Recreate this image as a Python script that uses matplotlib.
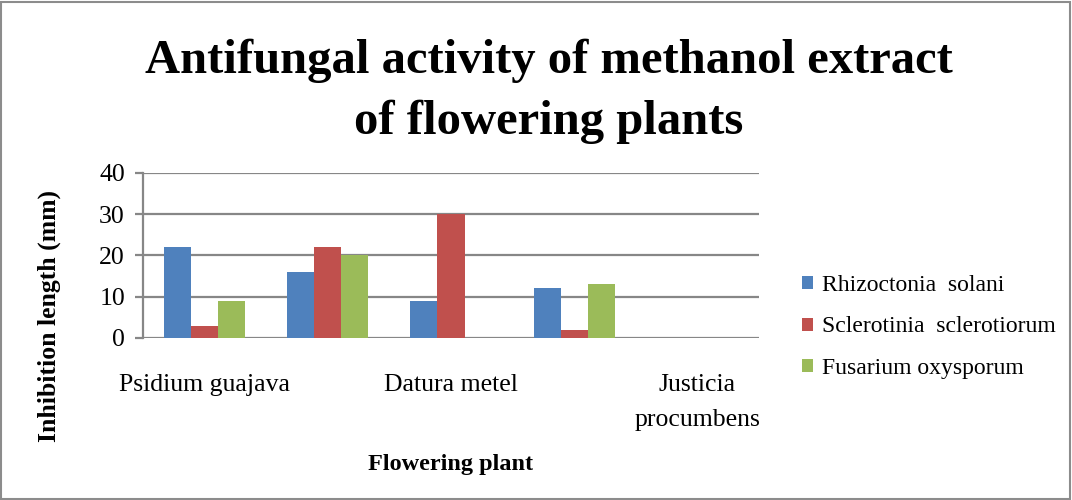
import matplotlib
matplotlib.use("Agg")
from matplotlib import pyplot as plt
from matplotlib.patches import Rectangle
import numpy as np

# data
plants = ["Psidium guajava", "", "Datura metel", "", "Justicia\nprocumbens"]
rhizoctonia = [22, 16, 9, 12, 0]
sclerotinia = [3, 22, 30, 2, 0]
fusarium = [9, 20, 0, 13, 0]
series_names = ["Rhizoctonia  solani", "Sclerotinia  sclerotiorum",
                "Fusarium oxysporum"]
series_colors = ["#4f81bd", "#c0504d", "#9bbb59"]

plt.rcParams['font.family'] = ['Liberation Serif', 'DejaVu Serif']

fig = plt.figure(figsize=(10.72, 5.0), dpi=100)
fig.patches.append(Rectangle((0.001, 0.002), 0.997, 0.995,
                             transform=fig.transFigure, fill=False,
                             edgecolor='#8c8c8c', linewidth=1.5))

ax = fig.add_axes((0.1334, 0.324, 0.5746, 0.3306))

x = np.arange(len(plants))
w = 0.22
for i_, (vals, name, col) in enumerate(zip([rhizoctonia, sclerotinia, fusarium],
                                           series_names, series_colors)):
    ax.bar(x + (i_ - 1) * w, vals, w, color=col, label=name, zorder=3)

ax.set_xlim(-0.5, len(plants) - 0.5)
ax.set_ylim(0, 40)
ax.set_yticks([0, 10, 20, 30, 40])
ax.yaxis.grid(True, color='#878787', linewidth=1.6, zorder=0)
ax.set_axisbelow(True)
for s_ in ['top', 'right', 'bottom']:
    ax.spines[s_].set_visible(False)
ax.spines['left'].set_color('#878787')
ax.spines['left'].set_linewidth(1.6)
ax.tick_params(axis='y', colors='#878787', length=6, width=1.6,
               labelcolor='black', labelsize=18.5, pad=7)
ax.set_xticks(x)
ax.set_xticklabels(plants, fontsize=18.5, linespacing=1.75)
ax.tick_params(axis='x', length=0, pad=26)

fig.text(0.046, 0.368, "Inhibition length (mm)", rotation=90, ha='center',
         va='center', fontsize=18.5, fontweight='bold')
ax.set_xlabel("Flowering plant", fontsize=17.5, fontweight='bold')
ax.xaxis.set_label_coords(0.5, -0.70)

fig.text(0.512, 0.817, "Antifungal activity of methanol extract\nof flowering plants",
         ha='center', va='center', fontsize=35, fontweight='bold',
         linespacing=1.5)

ax.legend(loc='center left', bbox_to_anchor=(0.748, 0.346),
          bbox_transform=fig.transFigure, frameon=False, borderpad=0,
          borderaxespad=0, fontsize=17, handlelength=0.47, handleheight=0.47,
          handletextpad=0.4, labelspacing=0.88)

fig.savefig("out.png", dpi=100)
